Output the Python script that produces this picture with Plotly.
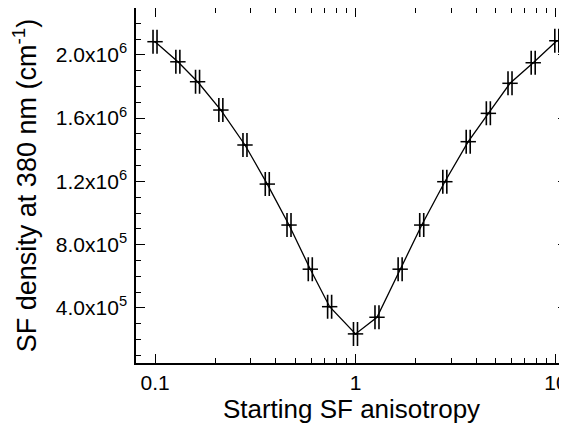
import plotly.graph_objects as go

anisotropy = [0.1, 0.13, 0.163, 0.213, 0.281, 0.363, 0.466, 0.595, 0.743, 1.0,
              1.28, 1.67, 2.14, 2.79, 3.65, 4.6, 5.9, 7.7, 10.1]
sf_density = [2.083e6, 1.956e6, 1.830e6, 1.651e6, 1.430e6, 1.183e6, 0.924e6, 0.645e6, 0.408e6, 0.236e6,
              0.341e6, 0.645e6, 0.924e6, 1.198e6, 1.451e6, 1.630e6, 1.820e6, 1.950e6, 2.089e6]

x_tickvals = [0.1, 1, 10]
x_ticktext = ["0.1", "1", "10"]
x_minor = [0.2, 0.3, 0.4, 0.5, 0.6, 0.7, 0.8, 0.9, 2, 3, 4, 5, 6, 7, 8, 9]
y_tickvals = [4.0e5, 8.0e5, 1.2e6, 1.6e6, 2.0e6]
y_ticktext = ["4.0x10<sup>5</sup>", "8.0x10<sup>5</sup>", "1.2x10<sup>6</sup>",
              "1.6x10<sup>6</sup>", "2.0x10<sup>6</sup>"]

FONT = "Liberation Sans, Arial, sans-serif"

fig = go.Figure()
fig.add_trace(go.Scatter(
    x=anisotropy, y=sf_density, mode="lines+markers",
    line=dict(color="black", width=1.3),
    marker=dict(symbol="line-ew-open", size=11, color="black",
                line=dict(color="black", width=1.5)),
    error_x=dict(type="percent", value=2.3, width=12, thickness=1.6, color="black"),
    showlegend=False,
    cliponaxis=False,
))

axis_common = dict(
    showline=True, linecolor="black", linewidth=1.5, mirror="ticks",
    ticks="inside", tickcolor="black", tickwidth=1.2, ticklen=9,
    showgrid=False, zeroline=False, automargin=False,
    ticklabeloverflow="allow",
    tickfont=dict(family=FONT, size=21, color="black"),
)

fig.update_xaxes(
    type="log", range=[-1.095, 1.055],
    tickmode="array", tickvals=x_tickvals, ticktext=x_ticktext,
    ticklabelstandoff=0,
    minor=dict(tickmode="array", tickvals=x_minor, ticks="inside", ticklen=5,
               tickcolor="black", tickwidth=1.2),
    title=dict(text="Starting SF anisotropy", font=dict(family=FONT, size=26, color="black"),
               standoff=0),
    **axis_common,
)
fig.update_yaxes(
    range=[0.052e6, 2.296e6],
    tickmode="array", tickvals=y_tickvals, ticktext=y_ticktext,
    ticklabelstandoff=3,
    minor=dict(dtick=1e5, tick0=0, ticks="inside", ticklen=5,
               tickcolor="black", tickwidth=1.2),
    title=dict(text="SF density at 380 nm (cm<sup>-1</sup>)",
               font=dict(family=FONT, size=27, color="black"), standoff=12),
    **axis_common,
)

fig.update_layout(
    width=559, height=425,
    margin=dict(l=128, r=0, t=0, b=70),
    plot_bgcolor="white", paper_bgcolor="white",
)

fig.write_html("out.html")
